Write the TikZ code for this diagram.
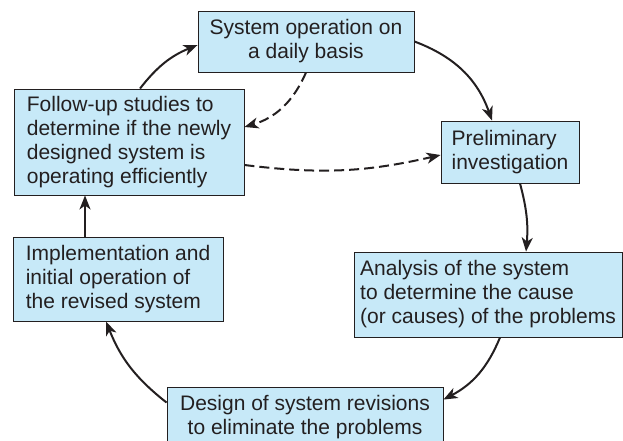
\documentclass[tikz,border=0pt]{standalone}
\usepackage{fontspec}
\setmainfont{Liberation Sans}
\usetikzlibrary{arrows.meta}
\definecolor{boxblue}{RGB}{199,233,248}
\definecolor{inkgray}{RGB}{35,31,32}

\begin{document}
\begin{tikzpicture}[x=1pt,y=1pt,
stagebox/.style={draw=inkgray,line width=0.9pt,fill=boxblue,inner sep=0pt,text=inkgray,font=\fontsize{21}{24}\selectfont},
flow/.style={line width=2pt,inkgray,-{Stealth[length=14pt,width=11pt,inset=4pt]}},
backflow/.style={flow,dash pattern=on 10pt off 5pt}]
\clip(0,0)rectangle(623,-441);
% the six stages of the cycle
\node[stagebox,align=center,minimum width=216pt,minimum height=61pt](sysop)at(306,-41.5){System operation on\\a daily basis};
\node[stagebox,align=left,minimum width=138pt,minimum height=62pt](prelim)at(510,-152){Preliminary\\investigation};
\node[stagebox,align=left,minimum width=268pt,minimum height=85pt](analysis)at(488,-294.5){Analysis of the system\\to determine the cause\\(or causes) of the problems};
\node[stagebox,align=center,minimum width=276pt,minimum height=60pt](design)at(305,-417){Design of system revisions\\to eliminate the problems};
\node[stagebox,align=left,minimum width=210pt,minimum height=84pt](impl)at(118,-279){Implementation and\\initial operation of\\the revised system};
\node[stagebox,align=left,minimum width=230pt,minimum height=106pt](follow)at(129,-142){Follow-up studies to\\determine if the newly\\designed system is\\operating efficiently};
% main cycle
\draw[flow]([xshift=11pt]follow.north)to[bend left=15]([yshift=-3.5pt]sysop.west);
\draw[flow](sysop.east)to[bend left=25]([xshift=-18pt]prelim.north);
\draw[flow]([xshift=10pt]prelim.south)to[bend left=10]([xshift=38pt]analysis.north);
\draw[flow]([xshift=12pt]analysis.south)to[bend left=20]([yshift=-13pt]design.north east);
\draw[flow]([yshift=-16pt]design.north west)to[bend left=15]([xshift=-12pt]impl.south);
\draw[flow]([xshift=-33pt]impl.north)--([xshift=-33pt]impl.north|-follow.south);
% feedback
\draw[backflow](sysop.south)to[bend left=25]([yshift=15pt]follow.east);
\draw[backflow]([yshift=-23pt]follow.east)to[bend right=10]([yshift=-3pt]prelim.west);
\end{tikzpicture}
\end{document}
